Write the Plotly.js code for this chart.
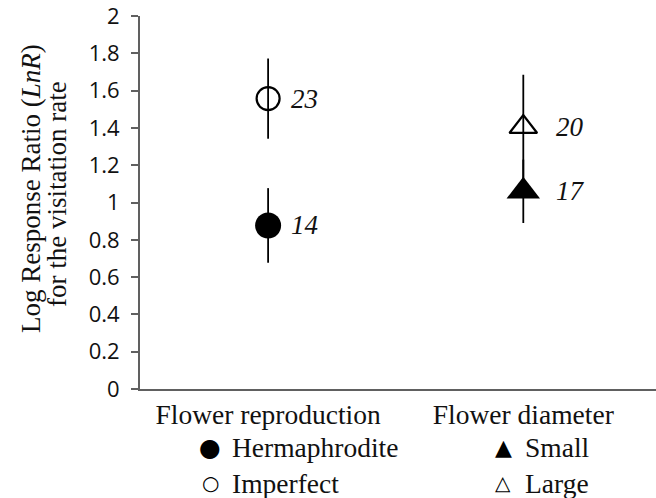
<!DOCTYPE html>
<html>
<head>
<meta charset="utf-8">
<script src="https://cdn.plot.ly/plotly-3.0.1.min.js"></script>
<style>html,body{margin:0;padding:0;background:#fff;}#chart{width:656px;height:498px;}</style>
</head>
<body>
<div id="chart"></div>
<script>
// ---- data ----
const categories = ['Flower reproduction', 'Flower diameter'];
const groupNames = ['Hermaphrodite', 'Imperfect', 'Small', 'Large'];
const groupCategory = [0, 0, 1, 1];
const lnR = [0.877, 1.557, 1.06, 1.405];
const ciHalf = [0.20, 0.215, 0.17, 0.28];
const sampleN = [14, 23, 17, 20];
const groupSymbol = ['circle', 'circle-open', 'triangle-up', 'triangle-up-open'];
const legendGlyph = ['\u25CF', '\u25CB', '\u25B2', '\u25B3'];
const yTicks = [0, 0.2, 0.4, 0.6, 0.8, 1, 1.2, 1.4, 1.6, 1.8, 2];
const yTickText = ['0', '0.2', '0.4', '0.6', '0.8', '1', '1.2', '1.4', '1.6', '1.8', '2'];

// ---- styling ----
const serif = 'Liberation Serif, Times New Roman, serif';
const markerSizes = [26, 23, 29, 24];
const L = 140, T = 16, W = 516, H = 373;
const xp = px => (px - L) / W;
const yp = py => (T + H - py) / H;

const traces = groupNames.map((g, i) => ({
  type: 'scatter', mode: 'markers', name: g,
  x: [groupCategory[i]], y: [lnR[i]],
  error_y: {type: 'data', array: [ciHalf[i]], visible: true, color: '#000', thickness: 1.8, width: 0},
  marker: {
    symbol: groupSymbol[i], size: markerSizes[i], color: '#000',
    line: {color: '#000', width: groupSymbol[i].indexOf('open') >= 0 ? 2.2 : 0}
  },
  cliponaxis: false, hoverinfo: 'skip', showlegend: false
}));

const annotations = [];
// sample size labels
groupNames.forEach((g, i) => {
  annotations.push({
    x: groupCategory[i], y: lnR[i], xref: 'x', yref: 'y',
    text: '<i>' + sampleN[i] + '</i>', showarrow: false,
    xanchor: 'left', yanchor: 'middle', xshift: groupCategory[i] === 0 ? 21 : 31,
    font: {family: serif, size: 27, color: '#111'}
  });
});
// legend under the axis
const legX = [210, 210, 503, 503];
const legTextX = [230, 230, 523, 523];
const legY = [448, 483, 448, 483];
const glyphSize = [25, 20, 22, 20];
groupNames.forEach((g, i) => {
  annotations.push({
    x: xp(legX[i]), y: yp(legY[i]), xref: 'paper', yref: 'paper',
    text: legendGlyph[i], showarrow: false, xanchor: 'center', yanchor: 'middle',
    font: {family: 'DejaVu Sans', size: glyphSize[i], color: '#000'}
  });
  annotations.push({
    x: xp(legTextX[i]), y: yp(legY[i]), xref: 'paper', yref: 'paper',
    text: g, showarrow: false, xanchor: 'left', yanchor: 'middle',
    font: {family: serif, size: 27.5, color: '#111'}
  });
});
// y-axis title (two lines)
annotations.push({
  x: xp(31), y: yp(189), xref: 'paper', yref: 'paper', textangle: -90,
  text: 'Log Response Ratio (<i>LnR</i>)', showarrow: false, xanchor: 'center', yanchor: 'middle',
  font: {family: serif, size: 27, color: '#111'}
});
annotations.push({
  x: xp(57), y: yp(194), xref: 'paper', yref: 'paper', textangle: -90,
  text: 'for the visitation rate', showarrow: false, xanchor: 'center', yanchor: 'middle',
  font: {family: serif, size: 27, color: '#111'}
});

const layout = {
  width: 656, height: 498,
  margin: {l: L, r: 0, t: T, b: 498 - T - H, pad: 0},
  paper_bgcolor: '#fff', plot_bgcolor: '#fff',
  showlegend: false,
  xaxis: {
    range: [-0.502, 1.52], tickvals: [0, 1], ticktext: categories,
    showgrid: false, zeroline: false, showline: true, linecolor: '#606060', linewidth: 2,
    ticks: '', tickfont: {family: serif, size: 27.5, color: '#111'}, fixedrange: true
  },
  yaxis: {
    range: [0, 2], tickvals: yTicks, ticktext: yTickText,
    showgrid: false, zeroline: false, showline: true, linecolor: '#606060', linewidth: 2,
    ticks: 'outside', ticklen: 7, tickwidth: 2, tickcolor: '#606060',
    tickfont: {family: 'Open Sans', size: 22, color: '#111'}, ticklabelstandoff: 7,
    ticklabeloverflow: 'allow', fixedrange: true
  },
  annotations: annotations
};

Plotly.newPlot('chart', traces, layout, {displayModeBar: false, staticPlot: true});
</script>
</body>
</html>
